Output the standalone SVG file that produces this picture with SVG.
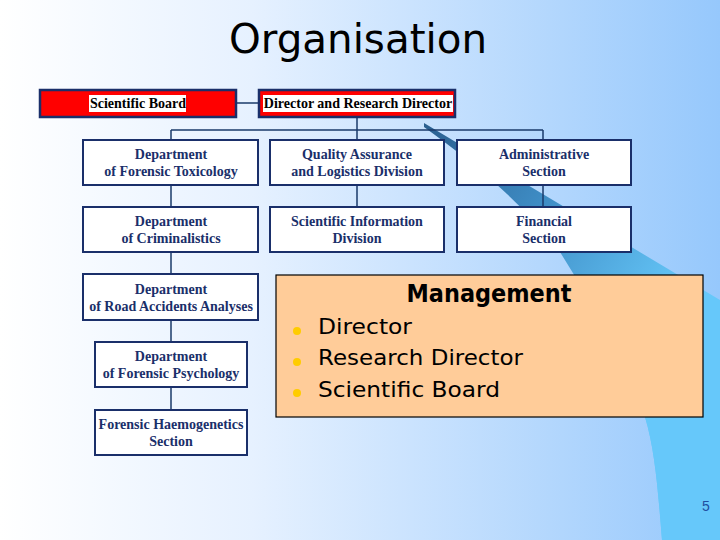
<svg xmlns="http://www.w3.org/2000/svg" width="720" height="540" viewBox="0 0 720 540">
<defs>
<linearGradient id="bg" x1="0" y1="0" x2="1" y2="0">
<stop offset="0" stop-color="#FFFFFF"/>
<stop offset="0.35" stop-color="#E6F1FF"/>
<stop offset="1" stop-color="#96C8FC"/>
</linearGradient>
<linearGradient id="sw" gradientUnits="userSpaceOnUse" x1="424" y1="124" x2="680" y2="300">
<stop offset="0" stop-color="#2A5F8F"/>
<stop offset="0.45" stop-color="#3E8CC4"/>
<stop offset="1" stop-color="#66C8FA"/>
</linearGradient>
<style>
.nb{fill:#FFFFFF;stroke:#1A2F6A;stroke-width:2}
.rb{fill:#FF0000;stroke:#1A2F6A;stroke-width:2.5}
.lab{fill:#FFFFFF}
.t{font-family:"Liberation Serif","Times New Roman",serif;font-weight:bold;font-size:14px;fill:#1A2F6A;text-anchor:middle}
.tr{font-family:"Liberation Serif","Times New Roman",serif;font-weight:bold;font-size:14px;fill:#000000;text-anchor:middle}
.c{stroke:#1A3A6A;stroke-width:1.5;fill:none}
.m{font-family:"DejaVu Sans",sans-serif;fill:#000000}
</style>
</defs>
<rect x="0" y="0" width="720" height="540" fill="url(#bg)"/>
<path d="M424,123 L720,300 L720,540 L662,540 C658,490 655,450 645,417 C620,350 590,300 560,252 C520,200 470,160 424,127 Z" fill="url(#sw)"/>
<path d="M662,540 C658,490 655,450 645,417 L720,417 L720,540 Z" fill="#66C8FA"/>

<text x="358" y="53" class="m" font-size="40" text-anchor="middle" textLength="258" lengthAdjust="spacingAndGlyphs">Organisation</text>

<g id="connectors">
<line class="c" x1="236" y1="103" x2="259" y2="103"/>
<line class="c" x1="357" y1="117" x2="357" y2="130"/>
<line class="c" x1="171" y1="130" x2="543" y2="130"/>
<line class="c" x1="171" y1="130" x2="171" y2="140"/>
<line class="c" x1="357" y1="130" x2="357" y2="140"/>
<line class="c" x1="543" y1="130" x2="543" y2="140"/>
<line class="c" x1="171" y1="185" x2="171" y2="207"/>
<line class="c" x1="357" y1="185" x2="357" y2="207"/>
<line class="c" x1="543" y1="185" x2="543" y2="207"/>
<line class="c" x1="171" y1="252" x2="171" y2="274"/>
<line class="c" x1="171" y1="320" x2="171" y2="342"/>
<line class="c" x1="171" y1="387" x2="171" y2="410"/>
</g>

<g id="scientific-board">
<rect class="rb" x="40" y="90" width="196" height="27"/>
<rect class="lab" x="89" y="95" width="97" height="17"/>
<text class="tr" x="138" y="108">Scientific Board</text>
</g>
<g id="director">
<rect class="rb" x="259" y="90" width="196" height="27"/>
<rect class="lab" x="263" y="95" width="190" height="17"/>
<text class="tr" x="358" y="108">Director and Research Director</text>
</g>

<g id="toxicology">
<rect class="nb" x="83" y="140" width="175" height="45"/>
<text class="t" x="171" y="159">Department</text>
<text class="t" x="171" y="176">of Forensic Toxicology</text>
</g>
<g id="quality">
<rect class="nb" x="270" y="140" width="174" height="45"/>
<text class="t" x="357" y="159">Quality Assurance</text>
<text class="t" x="357" y="176">and Logistics Division</text>
</g>
<g id="administrative">
<rect class="nb" x="457" y="140" width="174" height="45"/>
<text class="t" x="544" y="159">Administrative</text>
<text class="t" x="544" y="176">Section</text>
</g>
<g id="criminalistics">
<rect class="nb" x="83" y="207" width="175" height="45"/>
<text class="t" x="171" y="226">Department</text>
<text class="t" x="171" y="243">of Criminalistics</text>
</g>
<g id="sci-info">
<rect class="nb" x="270" y="207" width="174" height="45"/>
<text class="t" x="357" y="226">Scientific Information</text>
<text class="t" x="357" y="243">Division</text>
</g>
<g id="financial">
<rect class="nb" x="457" y="207" width="174" height="45"/>
<text class="t" x="544" y="226">Financial</text>
<text class="t" x="544" y="243">Section</text>
</g>
<g id="road">
<rect class="nb" x="83" y="274" width="175" height="46"/>
<text class="t" x="171" y="294">Department</text>
<text class="t" x="171" y="311">of Road Accidents Analyses</text>
</g>
<g id="psychology">
<rect class="nb" x="95" y="342" width="152" height="45"/>
<text class="t" x="171" y="361">Department</text>
<text class="t" x="171" y="378">of Forensic Psychology</text>
</g>
<g id="haemogenetics">
<rect class="nb" x="95" y="410" width="152" height="45"/>
<text class="t" x="171" y="429">Forensic Haemogenetics</text>
<text class="t" x="171" y="446">Section</text>
</g>

<g id="management">
<rect x="276" y="275" width="427" height="142" fill="#FFCC99" stroke="#000000" stroke-width="1.2"/>
<text class="m" x="489" y="302" font-size="24" font-weight="bold" text-anchor="middle" textLength="165" lengthAdjust="spacingAndGlyphs">Management</text>
<circle cx="297" cy="331" r="4" fill="#FFCC00"/>
<circle cx="297" cy="362" r="4" fill="#FFCC00"/>
<circle cx="297" cy="393" r="4" fill="#FFCC00"/>
<text class="m" x="318" y="334" font-size="22" textLength="94" lengthAdjust="spacingAndGlyphs">Director</text>
<text class="m" x="318" y="365" font-size="22" textLength="205" lengthAdjust="spacingAndGlyphs">Research Director</text>
<text class="m" x="318" y="397" font-size="22" textLength="182" lengthAdjust="spacingAndGlyphs">Scientific Board</text>
</g>

<text x="706" y="511" font-family="Liberation Sans, Arial, sans-serif" font-size="14" fill="#1F4FA0" text-anchor="middle">5</text>
</svg>
